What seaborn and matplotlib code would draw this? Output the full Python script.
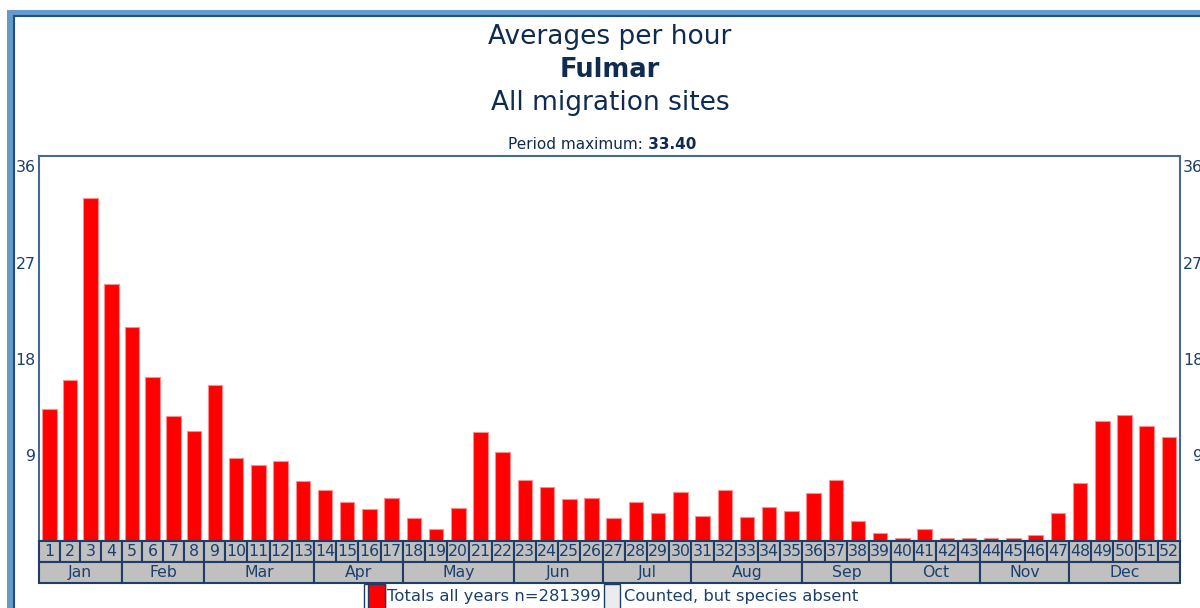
import numpy as np
import pandas as pd
import matplotlib
matplotlib.use("Agg")
import matplotlib.pyplot as plt
from matplotlib.patches import Rectangle
import seaborn as sns

# ---------------- data ----------------
weeks = list(range(1, 53))
values = [12.34, 15.03, 32.05, 24.00, 20.01, 15.31, 11.69, 10.29, 14.56, 7.79,
          7.08, 7.51, 5.58, 4.74, 3.62, 2.96, 4.05, 2.12, 1.12, 3.06,
          10.16, 8.35, 5.70, 5.02, 3.90, 4.05, 2.12, 3.62, 2.65, 4.61,
          2.37, 4.74, 2.24, 3.21, 2.81, 4.46, 5.70, 1.84, 0.72, 0.25,
          1.15, 0.25, 0.25, 0.25, 0.25, 0.59, 2.65, 5.45, 11.25, 11.81,
          10.73, 9.73]
months = ["Jan", "Feb", "Mar", "Apr", "May", "Jun",
          "Jul", "Aug", "Sep", "Oct", "Nov", "Dec"]
month_weeks = [4, 4, 5, 4, 5, 4, 4, 5, 4, 4, 4, 5]
yticks = [36, 27, 18, 9]
title_lines = ["Averages per hour", "Fulmar", "All migration sites"]
period_label = "Period maximum:"
period_max = "33.40"
legend_labels = ["Totals all years n=281399", "Counted, but species absent"]

# ---------------- style ----------------
sns.set_style("white")
plt.rcParams["font.family"] = ["DejaVu Sans"]

NAVY = "#0f2b50"
TXT = "#1c3f6e"
FRAME = "#48698f"
CELL_EDGE = "#1f3d66"
CELL_FILL = "#c0c0c0"

W, H = 1200, 608
fig = plt.figure(figsize=(W / 100, H / 100), dpi=100)
fig.patch.set_facecolor("white")


def fx(x):
    return x / W


def fy(y):
    return 1 - y / H


def px_rect(x0, y0, x1, y1, **kw):
    r = Rectangle((fx(x0), fy(y1)), fx(x1) - fx(x0), fy(y0) - fy(y1),
                  transform=fig.transFigure, **kw)
    fig.patches.append(r)
    return r


# outer page frame (cropped on the right / bottom)
px_rect(7.3, 10, 1260, 660, fc="#6699cc", ec="none", zorder=-20)
px_rect(13.5, 16.3, 1255, 655, fc="white", ec="#1f4f80", lw=1.5, zorder=-19)

# ---------------- layout of week cells (width grows with label length) ----------------
wk_w = np.array([1.0 if len(str(w)) == 1 else 1.074 for w in weeks])
edges = np.concatenate([[0.0], np.cumsum(wk_w)])
centers = edges[:-1] + wk_w / 2

L, R, T, B = 39, 1180, 156, 541
ax = fig.add_axes([fx(L), fy(B), (R - L) / W, (B - T) / H])

df = pd.DataFrame({"pos": centers, "value": values})
sns.barplot(data=df, x="pos", y="value", native_scale=True, color="#ff0000",
            saturation=1, width=0.7, edgecolor="#ff8c8c", linewidth=0.8,
            errorbar=None, ax=ax)
ax.set_xlim(0, edges[-1])
ax.set_ylim(0, 36)
ax.set_xticks([])
ax.set_yticks([])
ax.set_xlabel("")
ax.set_ylabel("")
for s in ax.spines.values():
    s.set_visible(True)
    s.set_color(FRAME)
    s.set_linewidth(1.5)

for v in yticks:
    ax.annotate(str(v), xy=(0, v), xycoords=("axes fraction", "data"),
                xytext=(-2.2, -8.6), textcoords="offset points",
                ha="right", va="center", fontsize=11.3, color=TXT,
                annotation_clip=False)
    ax.annotate(str(v), xy=(1, v), xycoords=("axes fraction", "data"),
                xytext=(16.6, -8.6), textcoords="offset points",
                ha="right", va="center", fontsize=11.3, color=TXT,
                annotation_clip=False)

# ---------------- week / month table ----------------
axt = fig.add_axes([fx(L), fy(583), (R - L) / W, (583 - B) / H])
axt.set_xlim(0, edges[-1])
axt.set_ylim(2, 0)
axt.axis("off")
for i, w in enumerate(weeks):
    axt.add_patch(Rectangle((edges[i], 0), wk_w[i], 1, fc=CELL_FILL,
                            ec=CELL_EDGE, lw=1.5, clip_on=False))
    axt.text(centers[i], 0.52, str(w), ha="center", va="center",
             fontsize=11.3, color=TXT)
m_idx = np.concatenate([[0], np.cumsum(month_weeks)])
for j, m in enumerate(months):
    x0, x1 = edges[m_idx[j]], edges[m_idx[j + 1]]
    axt.add_patch(Rectangle((x0, 1), x1 - x0, 1, fc=CELL_FILL,
                            ec=CELL_EDGE, lw=1.5, clip_on=False))
    axt.text((x0 + x1) / 2, 1.52, m, ha="center", va="center",
             fontsize=11.3, color=TXT)

# ---------------- titles ----------------
fig.text(fx(610), fy(43.5), title_lines[0], ha="center", va="baseline",
         fontsize=19, color=NAVY)
fig.text(fx(610), fy(76.7), title_lines[1], ha="center", va="baseline",
         fontsize=18.5, fontweight="bold", color=NAVY)
fig.text(fx(610), fy(110), title_lines[2], ha="center", va="baseline",
         fontsize=19, color=NAVY)

t1 = fig.text(fx(508), fy(149), period_label, ha="left", va="baseline",
              fontsize=11, color=NAVY)
ax.annotate(" " + period_max, xy=(1, 0), xycoords=t1, ha="left",
            va="bottom", fontsize=11, fontweight="bold", color=NAVY,
            annotation_clip=False)

# ---------------- legend ----------------
px_rect(363.5, 584, 384.5, 640, fc="white", ec=CELL_EDGE, lw=1, zorder=5)
px_rect(367.5, 584, 384.5, 640, fc="#ff0000", ec=CELL_EDGE, lw=1, zorder=5)
fig.text(fx(387), fy(597), legend_labels[0], ha="left", va="center",
         fontsize=11.8, color=TXT)
px_rect(603.5, 584, 619.5, 640, fc="#ececec", ec=CELL_EDGE, lw=1, zorder=5)
fig.text(fx(623.5), fy(597), legend_labels[1], ha="left", va="center",
         fontsize=11.8, color=TXT)

fig.savefig("out.png", dpi=100)
